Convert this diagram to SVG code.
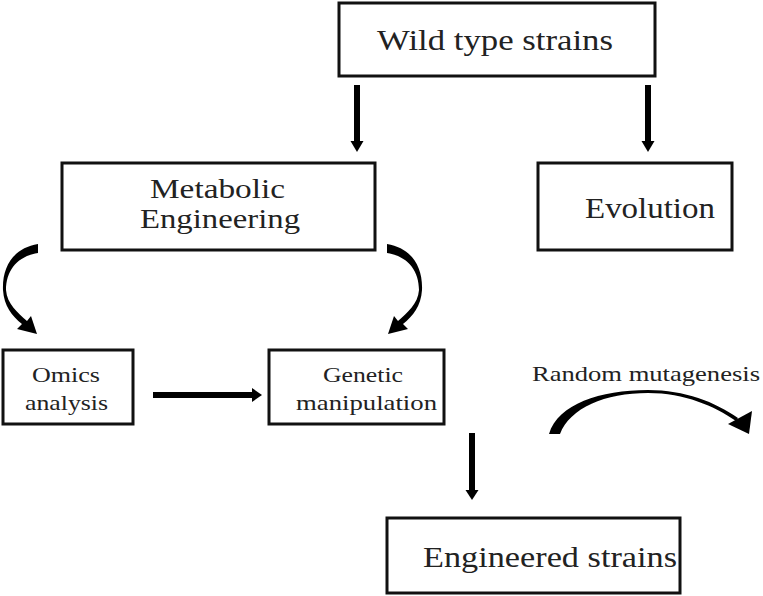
<svg xmlns="http://www.w3.org/2000/svg" width="763" height="596" viewBox="0 0 763 596">
<style>
.box{fill:#fff;stroke:#111;stroke-width:3}
.t{font-family:"Liberation Serif",Tinos,"Times New Roman","Nimbus Roman","FreeSerif",serif;fill:#222}
.big{font-size:30px}
.mid{font-size:28px}
.sm{font-size:22px}
.shaft{stroke:#000;stroke-width:6;fill:none}
.blk{fill:#000}
</style>
<rect width="763" height="596" fill="#fff"/>
<g id="wild"><rect class="box" x="339" y="3" width="316" height="73"/><text class="t big" font-family="Liberation Serif, serif" x="377" y="50" textLength="236" lengthAdjust="spacingAndGlyphs">Wild type strains</text></g>
<g id="metabolic"><rect class="box" x="62" y="163" width="313" height="87"/><text class="t mid" x="150" y="198" textLength="135" lengthAdjust="spacingAndGlyphs">Metabolic</text><text class="t mid" x="140" y="228" textLength="160" lengthAdjust="spacingAndGlyphs">Engineering</text></g>
<g id="evolution"><rect class="box" x="538" y="163" width="194" height="87"/><text class="t big" x="585" y="218" textLength="130" lengthAdjust="spacingAndGlyphs">Evolution</text></g>
<g id="omics"><rect class="box" x="3" y="350" width="130" height="74"/><text class="t sm" x="32" y="382" textLength="68" lengthAdjust="spacingAndGlyphs">Omics</text><text class="t sm" x="25" y="410" textLength="83" lengthAdjust="spacingAndGlyphs">analysis</text></g>
<g id="genetic"><rect class="box" x="269" y="350" width="175" height="74"/><text class="t sm" x="323" y="382" textLength="80" lengthAdjust="spacingAndGlyphs">Genetic</text><text class="t sm" x="296" y="410" textLength="141" lengthAdjust="spacingAndGlyphs">manipulation</text></g>
<g id="engineered"><rect class="box" x="387" y="518" width="293" height="75"/><text class="t big" x="423" y="567" textLength="254" lengthAdjust="spacingAndGlyphs">Engineered strains</text></g>
<g id="random"><text class="t sm" x="532" y="381" textLength="228" lengthAdjust="spacingAndGlyphs">Random mutagenesis</text></g>
<g id="connectors">
<line class="shaft" x1="357" y1="85" x2="357" y2="142"/><polygon class="blk" points="350.5,141 363.5,141 357,152"/>
<line class="shaft" x1="648" y1="85" x2="648" y2="142"/><polygon class="blk" points="641.5,141 654.5,141 648,152"/>
<line class="shaft" x1="153" y1="395" x2="253" y2="395"/><polygon class="blk" points="252,388 252,402 262,395"/>
<line class="shaft" x1="472" y1="433" x2="472" y2="491"/><polygon class="blk" points="465.5,490 478.5,490 472,500"/>
<path class="blk" d="M38 244 C14 248 2 266 3 290 C4 306 12 316 22 324 L17 329 L37 334 L31 316 L27 321 C18 313 7 304 6 290 C6 270 18 256 38 253 Z"/>
<path class="blk" transform="translate(425,0) scale(-1,1)" d="M38 244 C14 248 2 266 3 290 C4 306 12 316 22 324 L17 329 L37 334 L31 316 L27 321 C18 313 7 304 6 290 C6 270 18 256 38 253 Z"/>
<path class="blk" d="M549 434 C558 404 600 390 648 390 C685 390 715 402 738 418 L736 421 C714 406 685 393 648 393 C605 393 570 408 560 434 Z"/>
<polygon class="blk" points="728,424 752,411 749,434"/>
</g>
</svg>
